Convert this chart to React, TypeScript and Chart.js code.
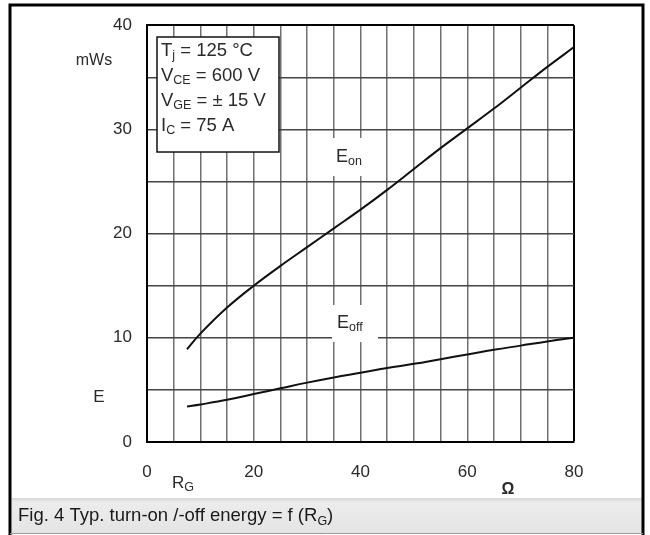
import React, { useEffect, useRef } from "react";
import { Chart, registerables } from "chart.js";

Chart.register(...registerables);

const rgValues = [7.5, 10, 15, 20, 25, 30, 35, 40, 45, 50, 55, 60, 65, 70, 75, 80];
const eonValues = [8.9, 10.4, 12.9, 15.0, 16.9, 18.7, 20.5, 22.3, 24.2, 26.2, 28.2, 30.1, 32.0, 34.0, 36.0, 37.9];
const eoffValues = [3.4, 3.6, 4.05, 4.6, 5.15, 5.7, 6.2, 6.65, 7.1, 7.5, 7.95, 8.4, 8.85, 9.25, 9.65, 10.0];
const xTickLabels = [0, 20, 40, 60, 80];
const yTickLabels = [0, 10, 20, 30, 40];
const conditionLines: [string, string, string][] = [
  ["T", "j", " = 125 °C"],
  ["V", "CE", " = 600 V"],
  ["V", "GE", " = ± 15 V"],
  ["I", "C", " = 75 A"],
];
const captionText = "Fig. 4 Typ. turn-on /-off energy = f (R";

const FONT = "'Liberation Sans', Arial, sans-serif";
const TEXT = "#2a2a2a";

function drawSub(
  ctx: CanvasRenderingContext2D,
  x: number,
  y: number,
  main: string,
  sub: string,
  rest: string,
  size: number,
  subSize: number,
  subDy: number
) {
  ctx.textBaseline = "middle";
  ctx.textAlign = "left";
  ctx.font = `${size}px ${FONT}`;
  ctx.fillText(main, x, y);
  let cx = x + ctx.measureText(main).width;
  ctx.font = `${subSize}px ${FONT}`;
  ctx.fillText(sub, cx, y + subDy);
  cx += ctx.measureText(sub).width;
  ctx.font = `${size}px ${FONT}`;
  if (rest) ctx.fillText(rest, cx, y);
  return cx + (rest ? ctx.measureText(rest).width : 0);
}

const decorPlugin = {
  id: "decor",
  beforeDatasetsDraw(chart: any) {
    const ctx = chart.ctx as CanvasRenderingContext2D;
    ctx.save();
    ctx.fillStyle = "#fff";
    ctx.fillRect(332, 138, 38, 38);
    ctx.fillRect(332, 305, 46, 37);
    ctx.fillRect(157, 37, 122, 115);
    ctx.strokeStyle = "#111";
    ctx.lineWidth = 1.5;
    ctx.strokeRect(157, 37, 122, 115);
    ctx.fillStyle = TEXT;
    const ys = [51, 76, 101, 126];
    conditionLines.forEach((l, i) => {
      drawSub(ctx, 161, ys[i], l[0], l[1], l[2], 18.5, 12.5, 5);
    });
    drawSub(ctx, 336, 157, "E", "on", "", 18, 12.5, 5);
    drawSub(ctx, 337, 323, "E", "off", "", 18, 12.5, 5);
    ctx.restore();
  },
  afterDraw(chart: any) {
    const ctx = chart.ctx as CanvasRenderingContext2D;
    ctx.save();
    // caption band
    const g = ctx.createLinearGradient(0, 498, 0, 533);
    g.addColorStop(0, "#d6d6d6");
    g.addColorStop(0.12, "#ececec");
    g.addColorStop(1, "#e4e4e4");
    ctx.fillStyle = g;
    ctx.fillRect(12, 498, 630, 35);
    ctx.fillStyle = "#1a1a1a";
    const end = drawSub(ctx, 18, 516, captionText, "G", "", 18.5, 12.5, 6);
    ctx.font = `18.5px ${FONT}`;
    ctx.fillText(")", end, 516);

    ctx.fillStyle = TEXT;
    ctx.textBaseline = "middle";
    ctx.textAlign = "center";
    ctx.font = `16px ${FONT}`;
    ctx.fillText("mWs", 94, 61);
    ctx.font = `17px ${FONT}`;
    ctx.fillText("E", 99, 397);
    ctx.font = `bold 16px ${FONT}`;
    ctx.fillText("Ω", 508, 490);
    ctx.font = `17px ${FONT}`;
    drawSub(ctx, 172, 483, "R", "G", "", 17, 12.5, 5);
    // outer frame
    ctx.strokeStyle = "#000";
    ctx.lineWidth = 3;
    ctx.beginPath();
    ctx.moveTo(10, 535);
    ctx.lineTo(10, 5);
    ctx.lineTo(643, 5);
    ctx.lineTo(643, 535);
    ctx.stroke();
    ctx.strokeStyle = "#999";
    ctx.lineWidth = 1;
    ctx.beginPath();
    ctx.moveTo(10, 533.5);
    ctx.lineTo(643, 533.5);
    ctx.stroke();
    ctx.restore();
  },
};

export default function App() {
  const ref = useRef<HTMLCanvasElement | null>(null);
  useEffect(() => {
    if (!ref.current) return;
    const chart = new Chart(ref.current, {
      type: "line",
      data: {
        datasets: [
          {
            label: "Eon",
            data: rgValues.map((x, i) => ({ x, y: eonValues[i] })),
            borderColor: "#111",
            borderWidth: 2,
            pointRadius: 0,
            tension: 0.4,
            fill: false,
          },
          {
            label: "Eoff",
            data: rgValues.map((x, i) => ({ x, y: eoffValues[i] })),
            borderColor: "#111",
            borderWidth: 2,
            pointRadius: 0,
            tension: 0.4,
            fill: false,
          },
        ],
      },
      options: {
        animation: false,
        responsive: false,
        devicePixelRatio: 1,
        layout: { padding: { left: 0, top: 25, right: 76, bottom: 0 } },
        plugins: { legend: { display: false }, tooltip: { enabled: false } },
        scales: {
          x: {
            type: "linear",
            min: 0,
            max: 80,
            afterFit: (s: any) => {
              s.height = 93;
            },
            ticks: {
              stepSize: 5,
              autoSkip: false,
              maxRotation: 0,
              padding: 20,
              color: TEXT,
              font: { family: FONT, size: 17 },
              callback: (v: any) => (xTickLabels.includes(Number(v)) ? String(v) : ""),
            },
            grid: {
              drawTicks: false,
              color: (c: any) => (c.tick && c.tick.value === 80 ? "#000" : "#707070"),
              lineWidth: (c: any) => (c.tick && c.tick.value === 80 ? 2 : 1.5),
            },
            border: { display: true, color: "#000", width: 2 },
          },
          y: {
            min: 0,
            max: 40,
            afterFit: (s: any) => {
              s.width = 147;
            },
            ticks: {
              stepSize: 5,
              autoSkip: false,
              padding: 15,
              color: TEXT,
              font: { family: FONT, size: 17 },
              callback: (v: any) => (yTickLabels.includes(Number(v)) ? String(v) : ""),
            },
            grid: {
              drawTicks: false,
              color: (c: any) => (c.tick && c.tick.value === 40 ? "#000" : "#454545"),
              lineWidth: (c: any) => (c.tick && c.tick.value === 40 ? 2 : 1.5),
            },
            border: { display: true, color: "#000", width: 2 },
          },
        },
      },
      plugins: [decorPlugin],
    });
    return () => chart.destroy();
  }, []);
  return (
    <div style={{ position: "absolute", left: 0, top: 0, width: 650, height: 535, background: "#fff" }}>
      <canvas ref={ref} width={650} height={535} style={{ display: "block" }} />
    </div>
  );
}
